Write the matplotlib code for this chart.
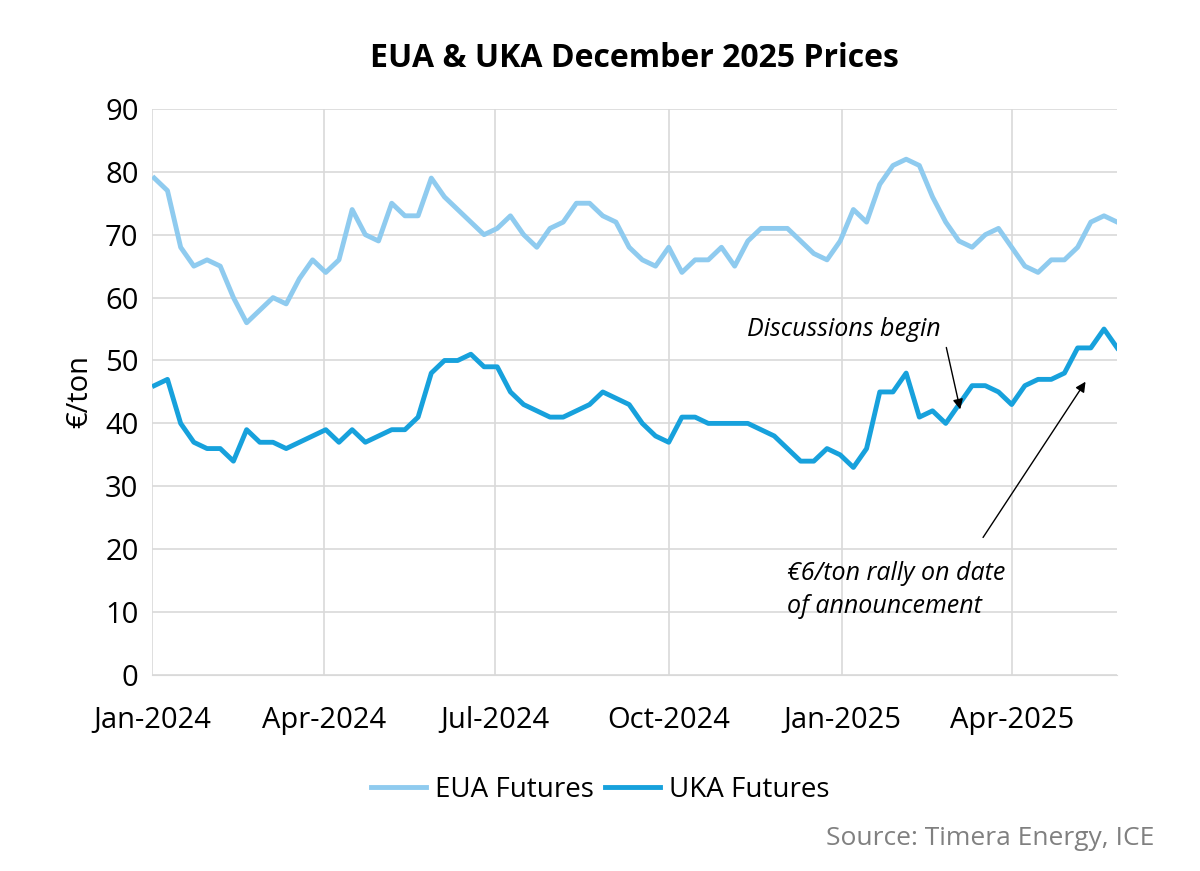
import matplotlib
matplotlib.use("Agg")
import matplotlib.pyplot as plt
import pandas as pd

eua = [79,77,68,65,66,65,60,56,58,60,59,63,66,64,66,74,70,69,75,73,73,79,76,74,72,70,71,73,70,68,71,72,75,75,73,72,68,66,65,68,64,66,66,68,65,69,71,71,71,69,67,66,69,74,72,78,81,82,81,76,72,69,68,70,71,68,65,64,66,66,68,72,73,72]
uka = [46,47,40,37,36,36,34,39,37,37,36,37,38,39,37,39,37,38,39,39,41,48,50,50,51,49,49,45,43,42,41,41,42,43,45,44,43,40,38,37,41,41,40,40,40,40,39,38,36,34,34,36,35,33,36,45,45,48,41,42,40,43,46,46,45,43,46,47,47,48,52,52,55,52]
dates_eua = pd.date_range("2024-01-02", periods=len(eua), freq="7D")
dates_uka = pd.date_range("2024-01-02", periods=len(uka), freq="7D")
xticks = pd.to_datetime(["2024-01-01","2024-04-01","2024-07-01","2024-10-01","2025-01-01","2025-04-01"])
xlabels = ["Jan-2024","Apr-2024","Jul-2024","Oct-2024","Jan-2025","Apr-2025"]

plt.rcParams['font.family'] = ['Open Sans', 'DejaVu Sans']
fig = plt.figure(figsize=(12, 8.71), dpi=100)
ax = fig.add_axes([0.127, 0.225, 0.804, 0.65])
ax.plot(dates_eua, eua, color="#8fcbef", lw=3.5, label="EUA Futures")
ax.plot(dates_uka, uka, color="#17a1dc", lw=3.5, label="UKA Futures")
ax.set_xlim(pd.Timestamp("2024-01-01"), pd.Timestamp("2025-05-27"))
ax.set_ylim(0, 90)
ax.set_yticks(range(0, 91, 10))
ax.set_xticks(xticks)
ax.set_xticklabels(xlabels)
ax.grid(axis="both", color="#d9d9d9", lw=1.2)
ax.set_axisbelow(True)
for s in ["top", "right", "left"]:
    ax.spines[s].set_visible(False)
ax.spines["bottom"].set_color("#d9d9d9")
ax.tick_params(length=0, labelsize=21, pad=10)
ax.tick_params(axis="x", pad=22)
ax.set_ylabel("€/ton", fontsize=21, labelpad=8)
ax.set_title("EUA & UKA December 2025 Prices", fontsize=23, fontweight="bold", pad=30)

ax.annotate("", xy=(pd.Timestamp("2025-03-05"), 41.8), xytext=(pd.Timestamp("2025-02-25"), 52.5),
            arrowprops=dict(arrowstyle="-|>", color="black", lw=1, mutation_scale=15))
ax.text(pd.Timestamp("2025-01-02"), 55, "Discussions begin", fontsize=18, style="italic", ha="center", va="center")
ax.annotate("", xy=(pd.Timestamp("2025-05-11"), 47), xytext=(pd.Timestamp("2025-03-16"), 21.5),
            arrowprops=dict(arrowstyle="-|>", color="black", lw=1, mutation_scale=15))
ax.text(pd.Timestamp("2024-12-03"), 13.5, "€6/ton rally on date\nof announcement", fontsize=18, style="italic",
        ha="left", va="center", linespacing=1.4)

fig.legend(loc="center", bbox_to_anchor=(0.5, 0.093), ncol=2, frameon=False, fontsize=20,
           handlelength=2.0, columnspacing=0.4, handletextpad=0.3)
fig.text(0.962, 0.037, "Source: Timera Energy, ICE", fontsize=19, color="#808080", ha="right", va="center")
fig.savefig("out.png", dpi=100)
